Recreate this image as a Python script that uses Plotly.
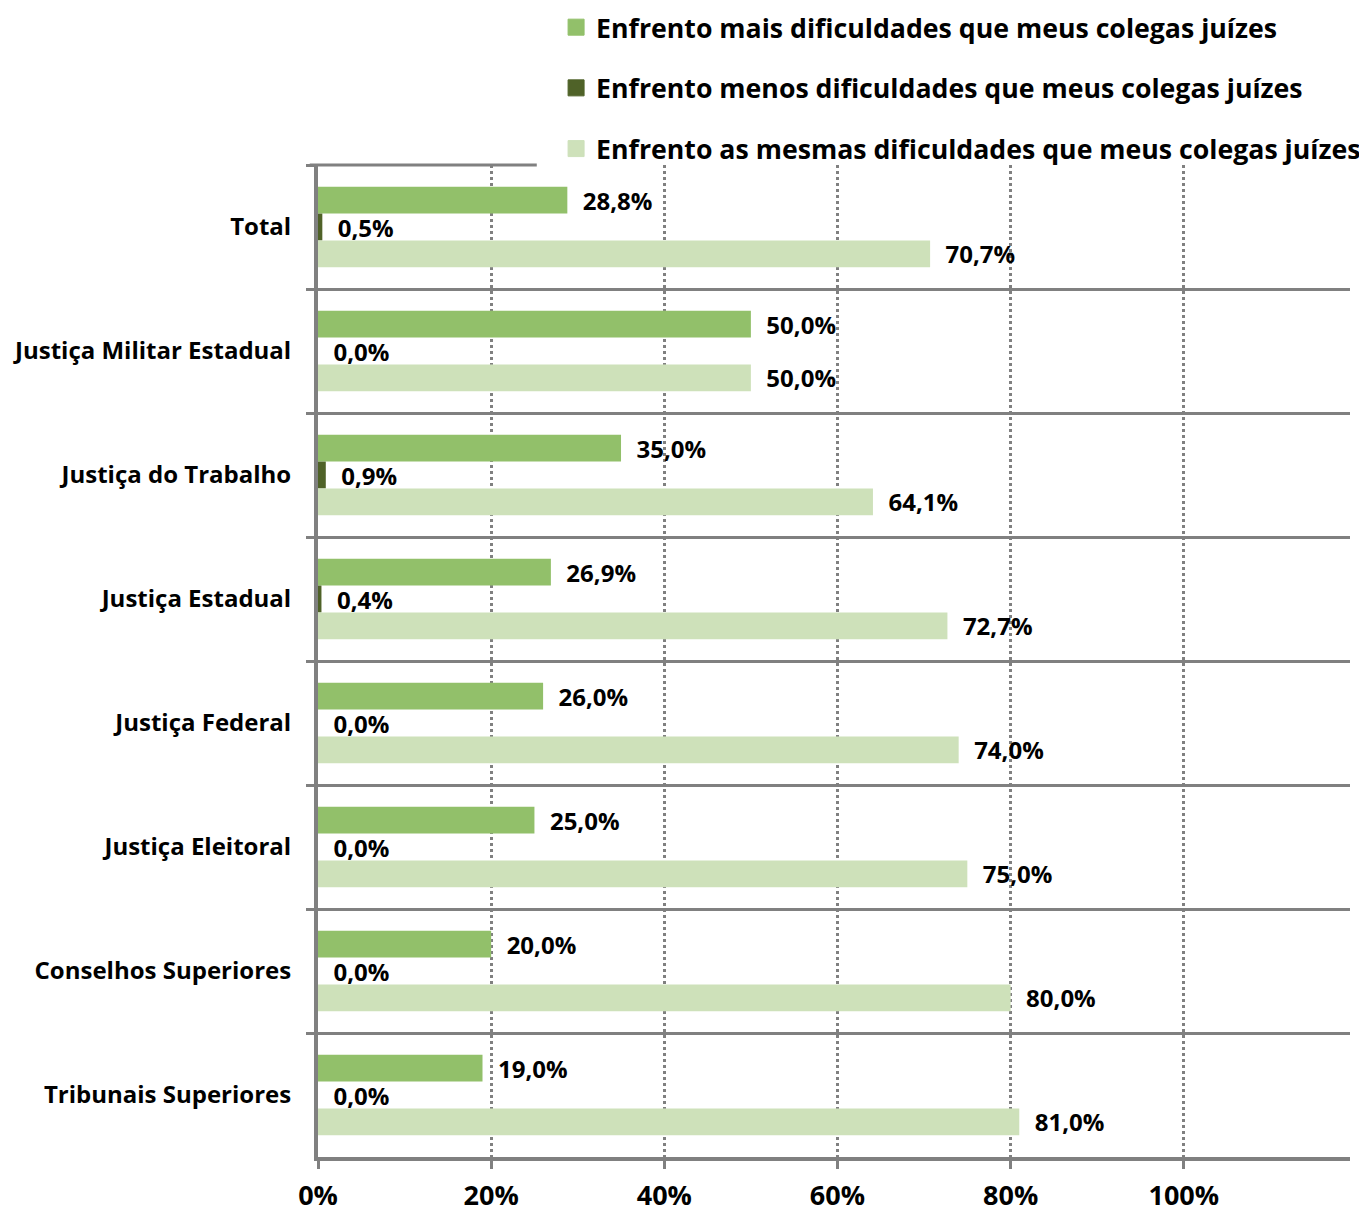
import plotly.graph_objects as go

# data
categories = ["Total", "Justiça Militar Estadual", "Justiça do Trabalho", "Justiça Estadual",
              "Justiça Federal", "Justiça Eleitoral", "Conselhos Superiores", "Tribunais Superiores"]
mais = [28.8, 50.0, 35.0, 26.9, 26.0, 25.0, 20.0, 19.0]
menos = [0.5, 0.0, 0.9, 0.4, 0.0, 0.0, 0.0, 0.0]
mesmas = [70.7, 50.0, 64.1, 72.7, 74.0, 75.0, 80.0, 81.0]
tickvals = [0, 20, 40, 60, 80, 100]

series = [
    ("Enfrento mais dificuldades que meus colegas juízes", mais, "#92C06A"),
    ("Enfrento menos dificuldades que meus colegas juízes", menos, "#4F6228"),
    ("Enfrento as mesmas dificuldades que meus colegas juízes", mesmas, "#CEE1BA"),
]

GRAY = "#808080"
FONT = "Open Sans"

fig = go.Figure()
for i, (name, vals, color) in enumerate(series):
    fig.add_trace(go.Bar(
        y=categories, x=vals, name=name, orientation="h",
        marker=dict(color=color, line=dict(width=0)),
        texttemplate="  %{x:.1f}%", textposition="outside",
        textfont=dict(family=FONT, size=24, color="black", weight="bold"),
        constraintext="none", cliponaxis=False,
        legendgroup=str(i), showlegend=False,
    ))
    # legend entry only, to get the bigger square swatch
    fig.add_trace(go.Scatter(
        x=[None], y=[None], mode="markers", name=name,
        marker=dict(symbol="square", size=16, color=color, line=dict(color=color, width=1)),
        legendgroup=str(i), showlegend=True,
    ))

# top border, partly hidden behind the legend like in the original
fig.add_shape(type="line", xref="paper", yref="paper", x0=-0.008, x1=0.212, y0=1, y1=1,
              line=dict(color=GRAY, width=3))

# page body has an 8px margin, so the figure is 8px smaller on each side
fig.update_layout(
    width=1359, height=1206,
    margin=dict(l=310, r=17, t=157, b=57, autoexpand=False),
    plot_bgcolor="white", paper_bgcolor="white",
    barmode="group", bargap=0.35, bargroupgap=0,
    separators=",.",
    font=dict(family=FONT, color="black"),
    legend=dict(
        x=0.2307, y=1.163, xanchor="left", yanchor="top",
        traceorder="grouped", tracegroupgap=23,
        bgcolor="rgba(0,0,0,0)",
        font=dict(family=FONT, size=26.7, color="black", weight="bold"),
    ),
    xaxis=dict(
        range=[0, 119.2], tickvals=tickvals, ticktext=[f"{v}%" for v in tickvals],
        showgrid=True, gridcolor=GRAY, gridwidth=3, griddash="dot",
        showline=True, linecolor=GRAY, linewidth=4,
        ticks="outside", ticklen=8, tickwidth=3, tickcolor=GRAY,
        tickfont=dict(family=FONT, size=27, color="black", weight="bold"),
        ticklabelstandoff=4, zeroline=False, automargin=False,
    ),
    yaxis=dict(
        autorange="reversed", tickson="boundaries",
        showgrid=True, gridcolor=GRAY, gridwidth=3,
        showline=True, linecolor=GRAY, linewidth=4,
        ticks="outside", ticklen=8, tickwidth=3, tickcolor=GRAY,
        tickfont=dict(family=FONT, size=24, color="black", weight="bold"),
        ticklabelstandoff=18, automargin=False,
    ),
)

fig.write_html("out.html")
